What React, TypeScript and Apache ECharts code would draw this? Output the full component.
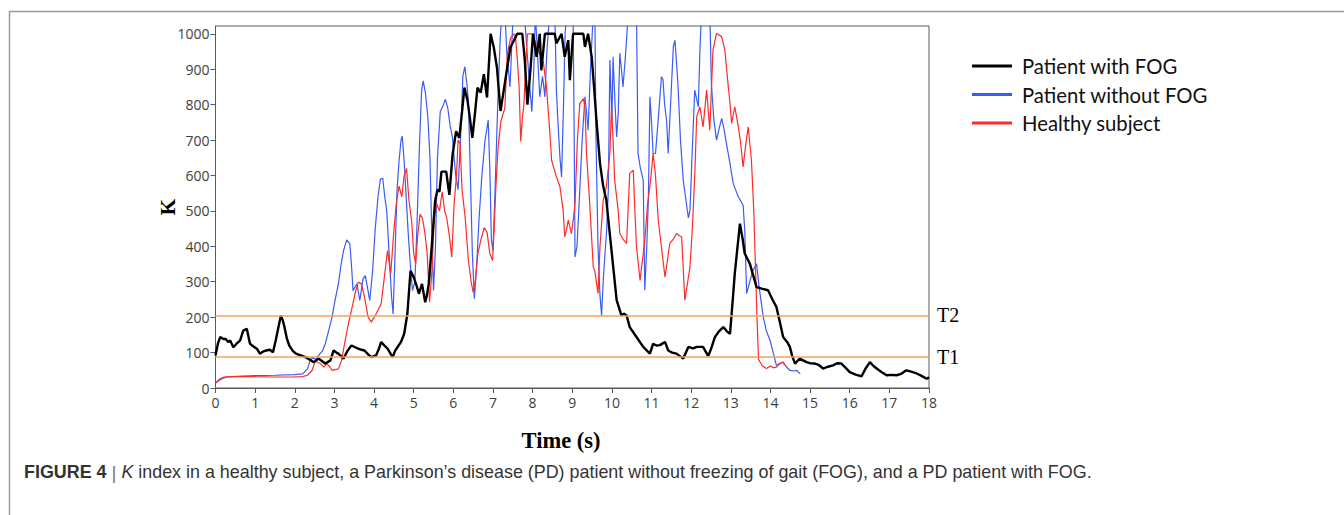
import React, { useEffect, useRef } from "react";
import * as echarts from "echarts";

// Time (s) / K value pairs
const fogPoints: [number, number][] = [
  [0, 92], [0.06, 125], [0.12, 144], [0.2, 138], [0.25, 139], [0.32, 130], [0.37, 134], [0.45, 115], [0.53, 125],
  [0.62, 134], [0.7, 162], [0.79, 167], [0.87, 125], [0.95, 118], [1.05, 110], [1.12, 97], [1.2, 103], [1.28, 106],
  [1.37, 108], [1.45, 101], [1.52, 135], [1.57, 162], [1.65, 205], [1.7, 190], [1.74, 172], [1.8, 140], [1.86, 120],
  [1.95, 105], [2.03, 97], [2.15, 92], [2.27, 87], [2.38, 80], [2.48, 73], [2.6, 83], [2.7, 75], [2.77, 69], [2.9, 78],
  [2.98, 106], [3.05, 100], [3.1, 97], [3.23, 83], [3.33, 105], [3.43, 120], [3.52, 115], [3.6, 111], [3.68, 108],
  [3.76, 106], [3.85, 95], [3.93, 87], [4.05, 92], [4.12, 110], [4.18, 130], [4.26, 120], [4.34, 111], [4.4, 100],
  [4.47, 87], [4.53, 105], [4.59, 115], [4.68, 130], [4.76, 153], [4.84, 209], [4.92, 331], [5.0, 313], [5.07, 290],
  [5.13, 266], [5.21, 294], [5.29, 242], [5.33, 260], [5.38, 294], [5.46, 407], [5.54, 528], [5.6, 560], [5.65, 554],
  [5.7, 611], [5.82, 611], [5.9, 545], [5.98, 658], [6.07, 725], [6.15, 706], [6.22, 780], [6.28, 848], [6.36, 810],
  [6.42, 760], [6.48, 706], [6.55, 780], [6.61, 848], [6.69, 834], [6.77, 886], [6.85, 820], [6.94, 1000], [7.02, 962],
  [7.1, 905], [7.19, 782], [7.27, 839], [7.36, 905], [7.44, 962], [7.53, 981], [7.61, 1000], [7.74, 1000], [7.8, 930],
  [7.87, 800], [7.95, 905], [8.01, 1000], [8.1, 935], [8.18, 1000], [8.22, 897], [8.31, 1000], [8.56, 1000], [8.6, 973],
  [8.73, 1000], [8.81, 935], [8.9, 982], [8.94, 869], [9.02, 1000], [9.28, 1000], [9.32, 963], [9.4, 1000], [9.49, 935],
  [9.55, 850], [9.61, 756], [9.7, 634], [9.78, 570], [9.86, 530], [9.99, 389], [10.12, 248], [10.24, 205], [10.3, 210],
  [10.37, 205], [10.45, 172], [10.62, 144], [10.79, 116], [10.96, 97], [11.04, 125], [11.12, 120], [11.21, 121],
  [11.34, 130], [11.42, 106], [11.52, 100], [11.63, 97], [11.8, 83], [11.93, 116], [12.05, 112], [12.14, 116],
  [12.3, 116], [12.43, 90], [12.5, 110], [12.6, 144], [12.7, 160], [12.81, 172], [12.9, 160], [12.98, 153], [13.05, 250],
  [13.1, 323], [13.23, 464], [13.3, 420], [13.35, 380], [13.48, 351], [13.65, 285], [13.8, 280], [13.94, 276],
  [14.05, 250], [14.15, 229], [14.25, 180], [14.32, 144], [14.42, 130], [14.49, 116], [14.55, 90], [14.62, 69],
  [14.74, 83], [14.91, 73], [15.0, 70], [15.12, 69], [15.22, 65], [15.33, 55], [15.45, 60], [15.58, 64], [15.68, 70],
  [15.79, 69], [15.9, 57], [16.0, 45], [16.15, 38], [16.3, 33], [16.4, 55], [16.51, 73], [16.6, 62], [16.68, 55],
  [16.8, 45], [16.93, 36], [17.05, 37], [17.18, 36], [17.3, 40], [17.43, 50], [17.55, 46], [17.69, 41], [17.8, 35],
  [17.94, 26], [18.0, 30],
];

const noFogPoints: [number, number][] = [
  [0, 14], [0.1, 22], [0.2, 28], [0.3, 31], [0.6, 33], [1.0, 35], [1.5, 36], [2.0, 38], [2.2, 40], [2.32, 54],
  [2.38, 75], [2.45, 87], [2.52, 80], [2.6, 92], [2.7, 105], [2.77, 125], [2.85, 160], [2.94, 200], [3.02, 250],
  [3.1, 294], [3.17, 350], [3.23, 388], [3.31, 418], [3.39, 407], [3.44, 330], [3.47, 275], [3.52, 285], [3.57, 294],
  [3.64, 247], [3.72, 308], [3.78, 317], [3.84, 280], [3.89, 247], [3.93, 290], [3.97, 341], [4.03, 450], [4.1, 540],
  [4.16, 590], [4.22, 592], [4.27, 540], [4.32, 500], [4.38, 380], [4.44, 260], [4.48, 209], [4.53, 380], [4.58, 560],
  [4.63, 640], [4.68, 700], [4.71, 711], [4.76, 640], [4.8, 560], [4.86, 440], [4.92, 340], [4.97, 275], [5.03, 300],
  [5.08, 450], [5.15, 700], [5.2, 840], [5.24, 867], [5.3, 830], [5.36, 760], [5.41, 650], [5.46, 420], [5.5, 275],
  [5.55, 400], [5.6, 650], [5.67, 780], [5.75, 800], [5.8, 815], [5.86, 790], [5.92, 740], [5.98, 706], [6.02, 650],
  [6.06, 600], [6.12, 560], [6.18, 700], [6.24, 880], [6.29, 907], [6.34, 860], [6.38, 813], [6.43, 600], [6.48, 380],
  [6.53, 252], [6.58, 330], [6.65, 480], [6.72, 600], [6.8, 700], [6.88, 756], [6.92, 620], [6.96, 420], [7.0, 388],
  [7.05, 550], [7.12, 800], [7.18, 980], [7.22, 1060], [7.3, 1060], [7.35, 945], [7.43, 850], [7.51, 1060],
  [7.79, 1060], [7.86, 950], [7.92, 860], [7.98, 780], [8.03, 900], [8.07, 1060], [8.12, 950], [8.18, 822],
  [8.25, 880], [8.31, 822], [8.36, 950], [8.43, 1060], [8.56, 1060], [8.6, 841], [8.65, 728], [8.69, 650], [8.73, 596],
  [8.78, 800], [8.82, 1000], [8.86, 1060], [9.02, 1060], [9.05, 700], [9.07, 370], [9.12, 400], [9.19, 558],
  [9.25, 700], [9.32, 822], [9.36, 780], [9.4, 728], [9.46, 900], [9.53, 1060], [9.57, 1060], [9.6, 700], [9.65, 400],
  [9.7, 260], [9.74, 205], [9.78, 300], [9.82, 370], [9.87, 450], [9.91, 560], [9.95, 926], [10.0, 756], [10.03, 935],
  [10.08, 800], [10.12, 709], [10.16, 775], [10.2, 945], [10.24, 900], [10.28, 850], [10.33, 920], [10.37, 982],
  [10.41, 1060], [10.62, 1060], [10.66, 662], [10.72, 620], [10.79, 587], [10.83, 276], [10.88, 400], [10.92, 530],
  [10.96, 822], [11.0, 750], [11.04, 662], [11.1, 662], [11.17, 760], [11.25, 879], [11.29, 870], [11.33, 800],
  [11.38, 756], [11.42, 662], [11.48, 800], [11.55, 963], [11.59, 982], [11.63, 920], [11.67, 850], [11.73, 700],
  [11.8, 587], [11.88, 521], [11.93, 480], [11.97, 502], [12.02, 650], [12.09, 841], [12.13, 820], [12.18, 794],
  [12.22, 950], [12.26, 1060], [12.47, 1060], [12.51, 860], [12.57, 760], [12.64, 700], [12.7, 730], [12.77, 761],
  [12.83, 730], [12.89, 690], [12.98, 634], [13.06, 577], [13.19, 540], [13.31, 516], [13.35, 450], [13.4, 267],
  [13.48, 300], [13.55, 330], [13.65, 351], [13.72, 280], [13.82, 200], [13.9, 160], [13.99, 135], [14.07, 100],
  [14.15, 64], [14.25, 70], [14.32, 73], [14.4, 60], [14.49, 50], [14.58, 48], [14.66, 50], [14.75, 40],
];

const healthyPoints: [number, number][] = [
  [0, 14], [0.1, 25], [0.21, 31], [0.4, 32], [0.7, 33], [1.0, 32], [1.5, 31], [1.94, 31], [2.2, 32], [2.32, 36],
  [2.44, 50], [2.52, 78], [2.58, 72], [2.65, 69], [2.73, 59], [2.81, 69], [2.88, 60], [2.94, 50], [3.02, 52],
  [3.1, 54], [3.18, 78], [3.27, 134], [3.35, 180], [3.43, 219], [3.52, 266], [3.6, 299], [3.68, 294], [3.76, 256],
  [3.85, 200], [3.93, 186], [4.05, 209], [4.18, 238], [4.26, 313], [4.34, 388], [4.42, 322], [4.5, 444], [4.56, 520],
  [4.63, 570], [4.7, 540], [4.76, 600], [4.82, 620], [4.88, 530], [4.95, 470], [5.0, 380], [5.05, 350], [5.1, 430],
  [5.16, 490], [5.22, 480], [5.28, 440], [5.34, 380], [5.4, 242], [5.46, 330], [5.52, 480], [5.58, 520], [5.65, 500],
  [5.72, 554], [5.78, 500], [5.83, 482], [5.9, 430], [5.96, 369], [6.02, 520], [6.08, 600], [6.12, 700], [6.17, 690],
  [6.22, 560], [6.3, 480], [6.38, 360], [6.45, 300], [6.5, 270], [6.55, 300], [6.62, 380], [6.7, 420], [6.78, 453],
  [6.85, 440], [6.92, 380], [6.99, 360], [7.03, 450], [7.07, 560], [7.13, 680], [7.2, 753], [7.3, 791], [7.36, 943],
  [7.45, 990], [7.53, 1000], [7.57, 990], [7.62, 920], [7.66, 848], [7.7, 696], [7.74, 760], [7.78, 800], [7.83, 920],
  [7.87, 1000], [8.01, 1000], [8.1, 963], [8.27, 920], [8.35, 850], [8.43, 728], [8.48, 643], [8.6, 596], [8.69, 568],
  [8.77, 502], [8.81, 427], [8.86, 450], [8.9, 474], [8.98, 436], [9.03, 480], [9.07, 521], [9.13, 700], [9.19, 803],
  [9.28, 817], [9.32, 794], [9.36, 662], [9.44, 521], [9.53, 342], [9.57, 330], [9.65, 267], [9.7, 400], [9.78, 530],
  [9.86, 568], [9.95, 662], [9.99, 794], [10.03, 700], [10.07, 587], [10.16, 500], [10.2, 436], [10.28, 420],
  [10.37, 408], [10.45, 606], [10.54, 615], [10.58, 500], [10.62, 400], [10.71, 304], [10.77, 360], [10.83, 417],
  [10.9, 520], [10.97, 580], [11.04, 662], [11.1, 600], [11.17, 474], [11.25, 398], [11.34, 313], [11.4, 360],
  [11.46, 408], [11.55, 420], [11.63, 436], [11.7, 430], [11.76, 427], [11.84, 248], [11.9, 290], [11.97, 342],
  [12.03, 450], [12.09, 600], [12.14, 766], [12.22, 794], [12.3, 737], [12.39, 841], [12.47, 728], [12.55, 954],
  [12.64, 1001], [12.77, 992], [12.85, 954], [12.92, 870], [12.98, 803], [13.02, 747], [13.1, 794], [13.19, 737],
  [13.25, 690], [13.31, 624], [13.38, 690], [13.44, 737], [13.52, 643], [13.58, 500], [13.62, 350], [13.66, 200],
  [13.7, 80], [13.8, 62], [13.9, 55], [14.0, 62], [14.08, 57], [14.15, 59], [14.25, 70], [14.32, 73], [14.36, 64],
];

const thresholds = [
  { name: "T2", value: 205 },
  { name: "T1", value: 88 },
];

const seriesNames = ["Patient with FOG", "Patient without FOG", "Healthy subject"];
const xTicks = { min: 0, max: 18, interval: 1 };
const yTicks = { min: 0, max: 1022, interval: 100 };

export default function App() {
  const ref = useRef<HTMLDivElement>(null);
  useEffect(() => {
    if (!ref.current) return;
    const chart = echarts.init(ref.current, undefined, { renderer: "svg" });
    const labelFont = "'Open Sans', 'Noto Sans', sans-serif";
    const capFont = "'Liberation Sans', Arial, sans-serif";
    const serif = "'Liberation Serif', 'Times New Roman', serif";
    chart.setOption({
      animation: false,
      backgroundColor: "#ffffff",
      grid: {
        left: 215.5,
        top: 26,
        width: 713.5,
        height: 362,
        show: true,
        borderColor: "#5a5a5a",
        borderWidth: 1,
        backgroundColor: "transparent",
      },
      legend: {
        orient: "vertical",
        left: 972,
        top: 56,
        padding: 0,
        itemWidth: 40,
        itemHeight: 3,
        itemGap: 8.5,
        icon: "rect",
        data: seriesNames,
        textStyle: {
          fontFamily: "Lato, 'Open Sans', sans-serif",
          fontSize: 20.3,
          lineHeight: 20,
          color: "#111",
          padding: [0, 0, 0, 5],
        },
      },
      xAxis: {
        type: "value",
        min: xTicks.min,
        max: xTicks.max,
        interval: xTicks.interval,
        axisLine: { show: true, lineStyle: { color: "#5a5a5a", width: 1 } },
        axisTick: { show: true, length: 5, lineStyle: { color: "#5a5a5a" } },
        axisLabel: { color: "#404040", fontSize: 14, fontFamily: labelFont, margin: 7 },
        splitLine: { show: false },
      },
      yAxis: {
        type: "value",
        min: yTicks.min,
        max: yTicks.max,
        interval: yTicks.interval,
        axisLine: { show: true, lineStyle: { color: "#5a5a5a", width: 1 } },
        axisTick: { show: true, length: 5, lineStyle: { color: "#5a5a5a" } },
        axisLabel: {
          color: "#404040",
          fontSize: 14,
          fontFamily: labelFont,
          margin: 6,
          showMaxLabel: false,
          formatter: (v: number) => (v % 100 === 0 ? String(v) : ""),
        },
        splitLine: { show: false },
      },
      series: [
        {
          name: seriesNames[1],
          type: "line",
          data: noFogPoints,
          showSymbol: false,
          symbol: "none",
          color: "#3a5cf5",
          lineStyle: { color: "#3a5cf5", width: 1.2 },
          z: 2,
        },
        {
          name: seriesNames[2],
          type: "line",
          data: healthyPoints,
          showSymbol: false,
          symbol: "none",
          color: "#ff2a2a",
          lineStyle: { color: "#ff2a2a", width: 1.2 },
          z: 3,
        },
        {
          name: seriesNames[0],
          type: "line",
          data: fogPoints,
          showSymbol: false,
          symbol: "none",
          color: "#000000",
          lineStyle: { color: "#000000", width: 2.4 },
          z: 4,
          markLine: {
            silent: true,
            symbol: "none",
            lineStyle: { color: "#f5a25c", width: 1.5, type: "solid" },
            label: {
              show: true,
              position: "end",
              distance: 8,
              formatter: "{b}",
              fontFamily: serif,
              fontSize: 20,
              color: "#000",
            },
            data: thresholds.map((t) => ({ name: t.name, yAxis: t.value })),
          },
        },
      ],
      graphic: [
        {
          type: "line",
          shape: { x1: 9.5, y1: 11, x2: 9.5, y2: 515 },
          style: { stroke: "#9a9a9a", lineWidth: 1.5 },
        },
        {
          type: "line",
          shape: { x1: 9, y1: 11.5, x2: 1344, y2: 11.5 },
          style: { stroke: "#9a9a9a", lineWidth: 1.5 },
        },
        {
          type: "text",
          x: 168,
          y: 207,
          rotation: Math.PI / 2,
          style: {
            text: "K",
            font: "bold 21px " + serif,
            fill: "#000",
            textAlign: "center",
            textVerticalAlign: "middle",
          },
        },
        {
          type: "text",
          x: 561,
          y: 440,
          style: {
            text: "Time (s)",
            font: "bold 22.5px " + serif,
            fill: "#000",
            textAlign: "center",
            textVerticalAlign: "middle",
          },
        },
        {
          type: "text",
          x: 24,
          y: 472,
          style: {
            text: "{b|FIGURE 4} {s||} {i|K} index in a healthy subject, a Parkinson\u2019s disease (PD) patient without freezing of gait (FOG), and a PD patient with FOG.",
            font: "17.9px " + capFont,
            fill: "#333",
            textVerticalAlign: "middle",
            rich: {
              b: { fontWeight: "bold", fontSize: 17.9, fontFamily: capFont, fill: "#333" },
              s: { fontSize: 19, fontFamily: capFont, fill: "#777" },
              i: { fontStyle: "italic", fontSize: 17.9, fontFamily: capFont, fill: "#333" },
            },
          },
        },
      ],
    });
    return () => chart.dispose();
  }, []);
  return (
    <div
      ref={ref}
      style={{ position: "absolute", left: 0, top: 0, width: 1344, height: 515, background: "#fff" }}
    />
  );
}
